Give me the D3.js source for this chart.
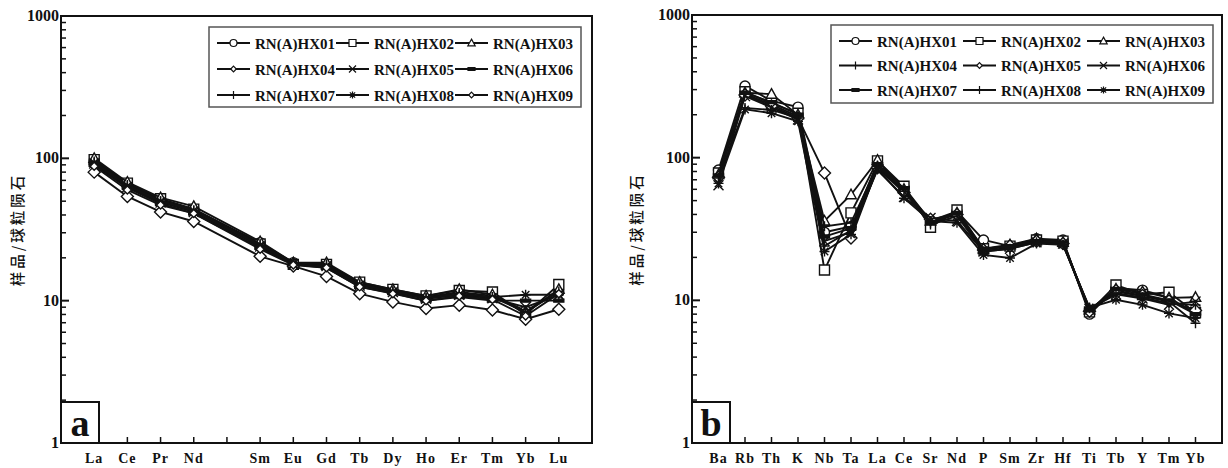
<!DOCTYPE html>
<html>
<head>
<meta charset="utf-8">
<script src="https://cdn.jsdelivr.net/npm/d3@7"></script>
<style>
  body { margin: 0; background: #fff; }
  svg { display: block; }
  .tick-label { font-family: "Liberation Serif", serif; font-weight: bold; fill: #111; }
  .legend-text { font-family: "Liberation Serif", serif; font-weight: bold; font-size: 15px; fill: #111; }
  .y-title { font-family: "Noto Sans CJK SC", sans-serif; font-size: 14.5px; font-weight: 500; fill: #111; letter-spacing: 3px; }
</style>
</head>
<body>
<script>
(function(){

    var samples = ["RN(A)HX01", "RN(A)HX02", "RN(A)HX03",
                   "RN(A)HX04", "RN(A)HX05", "RN(A)HX06",
                   "RN(A)HX07", "RN(A)HX08", "RN(A)HX09"];

    // panel a: REE, chondrite normalized (Pm has a tick but no value)
    var reeTicks = ["La","Ce","Pr","Nd","Pm","Sm","Eu","Gd","Tb","Dy","Ho","Er","Tm","Yb","Lu"];
    var reeElems = ["La","Ce","Pr","Nd","Sm","Eu","Gd","Tb","Dy","Ho","Er","Tm","Yb","Lu"];
    var reeHX01 = [96, 66, 51, 44, 25.5, 18.5, 18, 13.3, 11.8, 10.6, 11.5, 10.8, 8.5, 11.5];
    var reeHX02 = [98, 67, 52, 44, 25, 18, 18, 13.5, 12, 10.8, 11.8, 11.5, 8.0, 13.0];
    var reeHX03 = [100, 68, 53, 46, 26, 18.5, 18.5, 13.5, 12, 10.8, 12, 11, 8.2, 12];
    var reeHX04 = [80, 54, 42, 36, 20.5, 17.5, 14.8, 11.2, 9.8, 8.8, 9.3, 8.6, 7.4, 8.7];
    var reeHX05 = [92, 63, 49, 42, 24, 18, 17.5, 12.8, 11.5, 10.3, 11, 10.4, 9.0, 11.0];
    var reeHX06 = [90, 62, 48, 41, 23.5, 18, 17, 12.5, 11.3, 10.0, 10.6, 10.0, 10.0, 10.0];
    var reeHX07 = [95, 65, 50, 43, 25, 18.5, 18, 13, 11.7, 10.5, 11.3, 10.6, 8.3, 11.6];
    var reeHX08 = [93, 64, 50, 43, 24.5, 18, 17.5, 13, 11.5, 10.4, 11, 10.6, 11, 11];
    var reeHX09 = [88, 60, 47, 41, 23, 17.8, 17, 12.5, 11.2, 10, 10.8, 10.2, 7.8, 11.2];
    var reeMarkers = ["circle", "square", "triangle", "diamondBig", "x", "dash", "plus", "asterisk", "diamond"];

    // panel b: trace element spider diagram
    var spiderTicks = ["Ba","Rb","Th","K","Nb","Ta","La","Ce","Sr","Nd","P","Sm","Zr","Hf","Ti","Tb","Y","Tm","Yb"];
    var spHX01 = [82, 318, 250, 226, 30, 33, 92, 62, 36, 42, 26.5, 24, 27, 26.5, 8.0, 12.2, 11.8, 10.5, 8.0];
    var spHX02 = [78, 290, 240, 205, 16.3, 41, 95, 63, 32.5, 43, 23, 24, 26.5, 26, 8.3, 12.8, 11, 11.4, 8.2];
    var spHX03 = [76, 285, 279, 200, 36, 55, 96, 60, 36, 41, 23, 24.5, 27, 25.5, 8.6, 12, 11.5, 10.4, 10.5];
    var spHX04 = [74, 280, 235, 195, 24, 31, 88, 59, 35, 40, 22, 23.5, 26, 25, 8.5, 11.5, 10.7, 9.8, 6.9];
    var spHX05 = [73, 275, 230, 190, 78, 27.3, 85, 57, 37, 40, 22.5, 24, 26, 25, 8.4, 11.7, 10.8, 9.9, 8.5];
    var spHX06 = [64, 270, 225, 185, 26, 30, 82, 53, 37.7, 36, 22, 23, 25.5, 25, 8.7, 11, 10.3, 9.3, 9.8];
    var spHX07 = [75, 285, 245, 200, 28, 32, 90, 61, 35, 41, 23, 24, 26, 25.5, 8.5, 12, 11, 10, 8.0];
    var spHX08 = [72, 223, 216, 190, 33, 35, 87, 58, 34, 39, 22, 23, 25.5, 24.5, 8.8, 11.2, 10.5, 9.5, 9.3];
    var spHX09 = [66, 218, 205, 180, 22, 29, 84, 52, 36, 35, 20.8, 19.8, 25, 24.5, 8.9, 10.1, 9.3, 8.1, 7.5];
    var spiderMarkers = ["circle", "square", "triangle", "plus", "diamondBig", "x", "dash", "plus", "asterisk"];

    var yTicks = [1, 10, 100, 1000];
    var yTitle = "样品/球粒陨石";

    var svg = d3.select("body").append("svg")
        .attr("width", 1228)
        .attr("height", 468);

    function markerPath(type, s) {
        switch (type) {
            case "circle": return d3.symbol(d3.symbolCircle, Math.PI * s * s)();
            case "square": return "M" + (-s) + "," + (-s) + "H" + s + "V" + s + "H" + (-s) + "Z";
            case "triangle": return "M0," + (-s * 1.1) + "L" + (s * 1.05) + "," + (s * 0.8) + "L" + (-s * 1.05) + "," + (s * 0.8) + "Z";
            case "diamond": return "M0," + (-s * 0.8) + "L" + (s * 0.8) + ",0L0," + (s * 0.8) + "L" + (-s * 0.8) + ",0Z";
            case "diamondBig": return "M0," + (-s * 1.2) + "L" + (s * 1.2) + ",0L0," + (s * 1.2) + "L" + (-s * 1.2) + ",0Z";
            case "x": return "M" + (-s) + "," + (-s) + "L" + s + "," + s + "M" + (-s) + "," + s + "L" + s + "," + (-s);
            case "plus": return "M0," + (-s) + "V" + s + "M" + (-s) + ",0H" + s;
            case "asterisk": return "M0," + (-s) + "V" + s + "M" + (-s) + ",0H" + s +
                "M" + (-s * 0.75) + "," + (-s * 0.75) + "L" + (s * 0.75) + "," + (s * 0.75) +
                "M" + (-s * 0.75) + "," + (s * 0.75) + "L" + (s * 0.75) + "," + (-s * 0.75);
            case "dash": return "M" + (-s) + ",-1.5H" + s + "V1.5H" + (-s) + "Z";
        }
    }

    function closedShape(type) {
        return type == "circle" || type == "square" || type == "triangle" ||
               type == "diamond" || type == "diamondBig" || type == "dash";
    }

    function drawPanel(cfg) {
        var g = svg.append("g");

        var x = d3.scalePoint()
            .domain(cfg.ticks)
            .range([cfg.left, cfg.right])
            .padding(1);

        var y = d3.scaleLog()
            .domain([1, 1000])
            .range([cfg.bottom, cfg.top]);

        // minor ticks on the y axis
        var minor = [];
        [1, 10, 100].forEach(function(d) {
            for (var k = 2; k <= 9; k++) minor.push(d * k);
        });
        g.selectAll(".ymin")
            .data(minor)
            .enter()
            .append("line")
            .attr("x1", cfg.left)
            .attr("x2", cfg.left + 5)
            .attr("y1", function(d) { return y(d); })
            .attr("y2", function(d) { return y(d); })
            .attr("stroke", "#111")
            .attr("stroke-width", 1.5);

        g.selectAll(".ymaj")
            .data(yTicks)
            .enter()
            .append("line")
            .attr("x1", cfg.left)
            .attr("x2", cfg.left + 8)
            .attr("y1", function(d) { return y(d); })
            .attr("y2", function(d) { return y(d); })
            .attr("stroke", "#111")
            .attr("stroke-width", 2);

        g.selectAll(".ylab")
            .data(yTicks)
            .enter()
            .append("text")
            .attr("class", "tick-label")
            .attr("x", cfg.left - 2)
            .attr("y", function(d) { return y(d) + 5; })
            .attr("text-anchor", "end")
            .style("font-size", "16px")
            .text(function(d) { return d; });

        // x ticks (inward) and labels
        g.selectAll(".xt")
            .data(cfg.ticks)
            .enter()
            .append("line")
            .attr("x1", function(d) { return x(d); })
            .attr("x2", function(d) { return x(d); })
            .attr("y1", cfg.bottom)
            .attr("y2", cfg.bottom - 6)
            .attr("stroke", "#111")
            .attr("stroke-width", 1.5);

        g.selectAll(".xl")
            .data(cfg.ticks)
            .enter()
            .append("text")
            .attr("class", "tick-label")
            .attr("x", function(d) { return x(d); })
            .attr("y", cfg.bottom + 20)
            .attr("text-anchor", "middle")
            .style("font-size", "14px")
            .style("letter-spacing", "1px")
            .text(function(d) { return cfg.hidden.indexOf(d) >= 0 ? "" : d; });

        // frame
        g.append("rect")
            .attr("x", cfg.left)
            .attr("y", cfg.top)
            .attr("width", cfg.right - cfg.left)
            .attr("height", cfg.bottom - cfg.top)
            .attr("fill", "none")
            .attr("stroke", "#111")
            .attr("stroke-width", 2);

        // y title
        g.append("text")
            .attr("class", "y-title")
            .attr("transform", "translate(" + cfg.titleX + "," + ((cfg.top + cfg.bottom) / 2 + 0) + ") rotate(-90)")
            .attr("text-anchor", "middle")
            .text(yTitle);

        // series
        var line = d3.line()
            .x(function(d) { return x(d.el); })
            .y(function(d) { return y(d.v); });

        cfg.series.forEach(function(vals, i) {
            var pts = vals.map(function(v, j) { return { el: cfg.elems[j], v: v }; });
            var sg = g.append("g");
            sg.append("path")
                .datum(pts)
                .attr("d", line)
                .attr("fill", "none")
                .attr("stroke", "#111")
                .attr("stroke-width", 1.9);
            var type = cfg.markers[i];
            sg.selectAll("path.mk")
                .data(pts)
                .enter()
                .append("path")
                .attr("class", "mk")
                .attr("transform", function(d) { return "translate(" + x(d.el) + "," + y(d.v) + ")"; })
                .attr("d", markerPath(type, 5))
                .attr("fill", type == "dash" ? "#111" : (closedShape(type) ? "#fff" : "none"))
                .attr("stroke", "#111")
                .attr("stroke-width", 1.4);
        });

        // legend
        var lg = g.append("g");
        lg.append("rect")
            .attr("x", cfg.legend.x)
            .attr("y", cfg.legend.y)
            .attr("width", cfg.legend.w)
            .attr("height", cfg.legend.h)
            .attr("fill", "#fff")
            .attr("stroke", "#555")
            .attr("stroke-width", 1.5);

        samples.forEach(function(name, i) {
            var col = i % 3, row = Math.floor(i / 3);
            var lx = cfg.legend.x0 + col * cfg.legend.colStep;
            var ly = cfg.legend.y0 + row * cfg.legend.rowStep;
            lg.append("line")
                .attr("x1", lx)
                .attr("x2", lx + 33)
                .attr("y1", ly)
                .attr("y2", ly)
                .attr("stroke", "#111")
                .attr("stroke-width", 1.8);
            var type = cfg.markers[i] == "diamondBig" ? "diamond" : cfg.markers[i];
            lg.append("path")
                .attr("transform", "translate(" + (lx + 16.5) + "," + ly + ")")
                .attr("d", type == "plus" ? "M0,-4V4" : markerPath(type, 3.5))
                .attr("fill", type == "dash" ? "#111" : (closedShape(type) ? "#fff" : "none"))
                .attr("stroke", "#111")
                .attr("stroke-width", 1.2);
            lg.append("text")
                .attr("class", "legend-text")
                .attr("x", lx + cfg.legend.textGap)
                .attr("y", ly + 5.5)
                .text(name);
        });

        // panel letter box
        g.append("rect")
            .attr("x", cfg.left)
            .attr("y", cfg.bottom - 41)
            .attr("width", 38)
            .attr("height", 41)
            .attr("fill", "#fff")
            .attr("stroke", "#111")
            .attr("stroke-width", 2);
        g.append("text")
            .attr("class", "tick-label")
            .attr("x", cfg.left + 19)
            .attr("y", cfg.bottom - 7)
            .attr("text-anchor", "middle")
            .style("font-size", "38px")
            .text(cfg.letter);
    }

    drawPanel({
        left: 61, right: 592, top: 16, bottom: 443,
        ticks: reeTicks, elems: reeElems, hidden: ["Pm"],
        series: [reeHX01, reeHX02, reeHX03, reeHX04, reeHX05, reeHX06, reeHX07, reeHX08, reeHX09],
        markers: reeMarkers,
        titleX: 23,
        legend: { x: 209, y: 27, w: 372, h: 80, x0: 217, y0: 43, colStep: 119, rowStep: 26, textGap: 38 },
        letter: "a"
    });

    drawPanel({
        left: 692, right: 1222, top: 15, bottom: 443,
        ticks: spiderTicks, elems: spiderTicks, hidden: [],
        series: [spHX01, spHX02, spHX03, spHX04, spHX05, spHX06, spHX07, spHX08, spHX09],
        markers: spiderMarkers,
        titleX: 642,
        legend: { x: 831, y: 25, w: 382, h: 78, x0: 839, y0: 41, colStep: 124, rowStep: 24.5, textGap: 38 },
        letter: "b"
    });

})();
</script>
</body>
</html>
